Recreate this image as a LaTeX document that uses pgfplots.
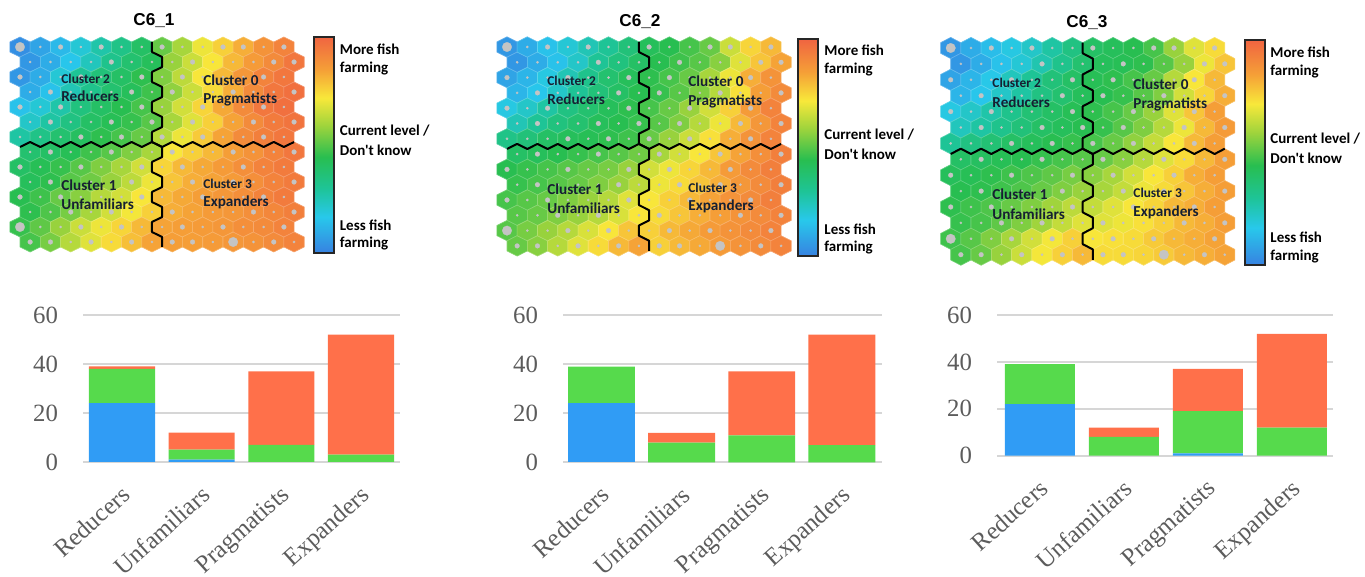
\documentclass[border=0pt]{standalone}
\usepackage{fontspec}
\setmainfont{Liberation Serif}
\newfontfamily\calfont{Carlito}
\newfontfamily\headfont{Liberation Sans}
\usepackage{pgfplots}
\usepackage{pgfplotstable}
\pgfplotsset{compat=1.18}

% colour scale of the component planes (less -> current -> more)
\definecolor{cb0}{RGB}{55,130,225}
\definecolor{cb1}{RGB}{40,200,235}
\definecolor{cb2}{RGB}{30,196,150}
\definecolor{cb3}{RGB}{40,190,80}
\definecolor{cb4}{RGB}{160,212,60}
\definecolor{cb5}{RGB}{248,232,58}
\definecolor{cb6}{RGB}{245,160,55}
\definecolor{cb7}{RGB}{240,100,65}
\definecolor{dotgray}{RGB}{196,196,196}
\definecolor{labeldark}{RGB}{22,32,50}
\definecolor{barblue}{RGB}{48,156,245}
\definecolor{bargreen}{RGB}{86,218,76}
\definecolor{barorange}{RGB}{255,112,74}
\definecolor{gridgray}{RGB}{214,214,214}
\definecolor{tickgray}{RGB}{92,92,92}

\pgfdeclareverticalshading{somscale}{100bp}{%
  color(0bp)=(cb0); color(25bp)=(cb0); color(33.25bp)=(cb1); color(40bp)=(cb2);
  color(47.15bp)=(cb3); color(54.5bp)=(cb4); color(60.8bp)=(cb5);
  color(67.3bp)=(cb6); color(75bp)=(cb7); color(100bp)=(cb7)}

% pointy-top hexagon cell: #2 half width, #3 half height, #4 quarter height
\newcommand\declarehex[4]{%
  \pgfdeclareplotmark{#1}{%
    \pgfpathmoveto{\pgfqpoint{0pt}{#3}}%
    \pgfpathlineto{\pgfqpoint{#2}{#4}}%
    \pgfpathlineto{\pgfqpoint{#2}{-#4}}%
    \pgfpathlineto{\pgfqpoint{0pt}{-#3}}%
    \pgfpathlineto{\pgfqpoint{-#2}{-#4}}%
    \pgfpathlineto{\pgfqpoint{-#2}{#4}}%
    \pgfpathclose\pgfusepathqfillstroke}}
\declarehex{hexA}{5.075pt}{5pt}{2.5pt}
\declarehex{hexB}{5.075pt}{5.1pt}{2.55pt}
\declarehex{hexC}{5.075pt}{5.3pt}{2.65pt}

% component plane values (0 = less fish farming, 100 = more), 14 x 14 SOM
\pgfplotstableread{
r c0 c1 c2 c3 c4 c5 c6 c7 c8 c9 c10 c11 c12 c13
0 3 8 13 20 27 33 40 52 60 70 76 82 88 92
1 5 10 16 24 32 38 42 58 65 72 80 86 90 95
2 5 10 20 30 36 40 45 55 63 72 80 87 92 95
3 10 15 25 32 38 42 47 57 65 74 82 90 95 97
4 15 20 27 35 40 44 48 58 66 75 83 90 95 97
5 22 28 34 40 43 46 50 60 68 76 84 90 94 96
6 28 33 38 41 45 48 52 62 70 77 84 90 93 95
7 38 40 43 47 50 55 60 72 76 80 85 88 92 95
8 40 43 46 50 55 60 66 75 80 83 86 89 92 94
9 42 45 50 53 58 63 70 78 82 84 86 89 92 94
10 44 47 52 56 62 66 72 80 83 85 87 89 92 94
11 45 49 54 60 66 71 76 82 84 86 87 89 91 93
12 46 51 58 65 70 75 80 84 85 86 87 89 90 92
13 48 54 62 68 74 79 84 85 85 86 87 88 90 92
}\planeA
\pgfplotstableread{
r c0 c1 c2 c3 c4 c5 c6 c7 c8 c9 c10 c11 c12 c13
0 5 10 15 20 25 30 36 42 44 48 52 65 75 80
1 5 10 15 22 30 35 40 44 47 50 56 68 78 84
2 8 12 18 25 32 38 42 45 48 52 60 70 82 88
3 12 16 22 30 36 40 44 46 50 55 62 73 85 90
4 18 22 28 34 38 42 45 48 52 58 66 76 86 92
5 25 30 35 38 42 44 46 50 55 62 70 80 87 92
6 33 36 40 42 43 45 47 52 58 65 73 82 88 92
7 40 42 44 46 48 50 53 60 66 72 78 84 89 93
8 44 46 48 50 52 54 58 66 70 75 80 86 90 93
9 46 48 50 52 55 58 63 70 74 78 82 87 90 93
10 48 50 52 55 58 62 68 72 76 80 84 88 90 93
11 50 52 55 58 62 67 72 74 78 82 85 88 90 92
12 50 54 58 62 67 72 78 76 80 83 86 88 90 92
13 52 56 62 68 74 80 84 76 80 83 86 88 90 92
}\planeB
\pgfplotstableread{
r c0 c1 c2 c3 c4 c5 c6 c7 c8 c9 c10 c11 c12 c13
0 5 10 14 18 22 28 34 40 42 44 48 58 68 74
1 5 10 15 20 26 32 38 42 43 45 50 58 70 78
2 8 12 17 24 30 36 40 43 45 48 52 62 72 80
3 12 16 22 28 34 38 42 44 46 50 55 66 75 82
4 18 22 27 32 37 40 43 45 48 52 58 68 78 85
5 24 28 32 36 40 42 44 46 50 55 62 70 80 86
6 30 34 37 40 42 44 46 48 52 57 64 72 80 85
7 40 41 43 44 46 48 50 52 56 62 68 74 80 85
8 42 43 45 47 49 51 54 56 60 66 72 76 82 85
9 44 45 47 49 52 55 58 60 64 70 74 78 82 85
10 45 47 49 52 55 59 63 64 68 72 75 80 82 85
11 46 48 51 55 59 64 68 68 70 73 76 80 82 85
12 47 50 55 60 66 71 76 72 73 74 77 80 82 84
13 48 52 58 65 71 76 80 74 74 75 77 80 82 84
}\planeC
% hits per cell (0 few, 1 some, 2 many), same map for all planes
\pgfplotstableread{
r d0 d1 d2 d3 d4 d5 d6 d7 d8 d9 d10 d11 d12 d13
0 2 0 1 0 1 0 0 1 0 0 1 1 0 1
1 0 0 0 0 1 0 0 0 1 0 0 0 1 1
2 1 0 0 1 0 0 1 0 1 0 0 0 1 0
3 0 1 0 0 0 1 0 1 0 0 1 0 0 1
4 1 0 1 0 0 0 1 0 0 1 0 0 1 0
5 0 1 0 0 1 0 1 0 1 0 0 1 0 1
6 0 0 0 1 0 1 0 1 0 1 0 0 1 0
7 0 1 0 0 1 0 0 1 0 0 1 0 0 1
8 1 0 0 1 0 0 1 0 1 0 0 1 0 0
9 0 1 0 0 0 1 0 0 1 0 1 0 0 1
10 1 0 1 0 0 0 1 0 0 1 0 0 1 0
11 0 0 1 0 1 0 0 1 0 0 0 1 0 1
12 2 0 0 1 0 1 0 0 1 0 1 0 0 1
13 1 1 0 1 0 1 0 1 1 0 2 0 1 0
}\hitdots
% cluster borders along cell edges (u in half cell widths, v in quarter cell heights)
\pgfplotstableread{
u v
13 -1
13 1
14 2
14 4
13 5
13 7
14 8
14 10
13 11
13 13
14 14
14 16
13 17
13 19
14 20
14 22
13 23
13 25
14 26
14 28
13 29
13 31
14 32
14 34
13 35
13 37
14 38
14 40
}\vdiv
\pgfplotstableread{
u v
0 20
1 19
2 20
3 19
4 20
5 19
6 20
7 19
8 20
9 19
10 20
11 19
12 20
13 19
14 20
15 19
16 20
17 19
18 20
19 19
20 20
21 19
22 20
23 19
24 20
25 19
26 20
27 19
}\hdiv

% #1 table, #2 x of first cell, #3 y of first cell, #4 row step, #5 mark
\newcommand\hexplane[5]{%
  \pgfplotsinvokeforeach{0,...,13}{%
    \addplot[scatter, only marks, mark=#5, scatter src=explicit,
      scatter/use mapped color={draw=mapped color!75!white, fill=mapped color},
      mark options={line width=0.3pt}]
      table[x expr={#2+(##1+0.5*mod(\thisrow{r},2))*20.3},
            y expr={#3+\thisrow{r}*#4}, meta=c##1] {#1};
  }%
}
% hit markers: #1 x of first cell, #2 y of first cell, #3 row step
\newcommand\hexhits[3]{%
  \pgfplotsinvokeforeach{0,...,13}{%
    \addplot[scatter, only marks, mark=*, point meta=\thisrow{d##1},
      scatter/use mapped color={draw=dotgray, fill=dotgray},
      mark options={line width=0.1pt},
      visualization depends on={0.6+0.6*\thisrow{d##1}+0.3*\thisrow{d##1}*(\thisrow{d##1}-1) \as \dsz},
      scatter/@pre marker code/.append style={/tikz/mark size=\dsz}]
      table[x expr={#1+(##1+0.5*mod(\thisrow{r},2))*20.3},
            y expr={#2+\thisrow{r}*#3}] {\hitdots};
  }%
}
% cluster borders: #1 x of first cell, #2 y of first cell, #3 row step
\newcommand\hexborders[3]{%
  \addplot[black, line width=1pt, line join=round]
    table[x expr={#1+\thisrow{u}*10.15}, y expr={#2+\thisrow{v}*#3/3}] {\vdiv};
  \addplot[black, line width=1pt, line join=round]
    table[x expr={#1+\thisrow{u}*10.15}, y expr={#2+\thisrow{v}*#3/3}] {\hdiv};
}

% #1 left x, #2 top y, #3 bottom y
\newcommand\scalebar[3]{%
  \addplot[draw=black!85, line width=1pt, line cap=rect, shading=somscale]
    coordinates {(#1,#2) (#1+20,#2) (#1+20,#3) (#1,#3) (#1,#2)};
}

\tikzset{
  maplabel/.style={anchor=west, inner sep=0pt, text=labeldark,
    font=\calfont\bfseries\fontsize{7.6}{9}\selectfont},
  mapsmall/.style={maplabel, font=\calfont\bfseries\fontsize{6.7}{8}\selectfont},
  scalelabel/.style={anchor=west, inner sep=0pt, text=black,
    font=\calfont\bfseries\fontsize{7.5}{9}\selectfont},
  planetitle/.style={inner sep=0pt, font=\headfont\bfseries\fontsize{8.6}{10}\selectfont}
}

\pgfplotsset{
  planeframe/.style={at={(0pt,0pt)}, anchor=south west, scale only axis,
    width=682.5pt, height=288.5pt,
    xmin=0, xmax=1365, ymin=0, ymax=577, y dir=reverse,
    hide axis, clip=false,
    colormap={som}{rgb255(0pt)=(55,130,225) rgb255(16.5pt)=(40,200,235)
      rgb255(30pt)=(30,196,150) rgb255(44.3pt)=(40,190,80)
      rgb255(59pt)=(160,212,60) rgb255(71.6pt)=(248,232,58)
      rgb255(84.6pt)=(245,160,55) rgb255(100pt)=(240,100,65)},
    point meta min=0, point meta max=100},
  clusterbars/.style={
    scale only axis, anchor=south west, ybar stacked,
    ymin=0, ymax=60, ytick={0,20,40,60},
    xtick={0,1,2,3},
    xticklabels={Reducers,Unfamiliars,Pragmatists,Expanders},
    axis line style={draw=none}, major tick length=0pt,
    ymajorgrids, major grid style={draw=gridgray, line width=1pt},
    tick label style={font=\fontsize{12.4}{14}\selectfont, text=tickgray},
    /pgf/number format/assume math mode=true,
    yticklabel style={xshift=-9pt},
    xticklabel style={rotate=42, anchor=north east, inner sep=0pt,
      xshift=-8pt, yshift=-7.5pt},
  },
}

\begin{document}
\begin{tikzpicture}
\path[use as bounding box] (0pt,0pt) rectangle (682.5pt,288.5pt);

% component planes
\begin{axis}[planeframe]
\hexplane{\planeA}{20}{47}{15}{hexA}
\hexplane{\planeB}{507}{47}{15.3}{hexB}
\hexplane{\planeC}{950.7}{48}{15.9}{hexC}
\end{axis}

% hits, cluster borders, colour scales and labels on top of the planes
\begin{axis}[planeframe]
\hexhits{20}{47}{15}
\hexhits{507}{47}{15.3}
\hexhits{950.7}{48}{15.9}
\end{axis}

\begin{axis}[planeframe]
\hexborders{20}{47}{15}
\hexborders{507}{47}{15.3}
\hexborders{950.7}{48}{15.9}

\scalebar{314}{36.7}{252.7}
\scalebar{798.3}{39}{256}
\scalebar{1245}{40}{265}

\node[planetitle] at (axis cs:154,21) {C6\_1};
\node[planetitle] at (axis cs:640,22) {C6\_2};
\node[planetitle] at (axis cs:1087,23) {C6\_3};

% C6_1
\node[mapsmall] at (axis cs:61,78.5) {Cluster 2};
\node[maplabel] at (axis cs:61,96.5) {Reducers};
\node[maplabel] at (axis cs:203,80) {Cluster 0};
\node[maplabel] at (axis cs:203,99) {Pragmatists};
\node[maplabel] at (axis cs:61,185) {Cluster 1};
\node[maplabel] at (axis cs:61,204) {Unfamiliars};
\node[mapsmall] at (axis cs:203,184) {Cluster 3};
\node[maplabel] at (axis cs:203,202.5) {Expanders};
\node[scalelabel] at (axis cs:339.5,49.5) {More fish};
\node[scalelabel] at (axis cs:339.5,69) {farming};
\node[scalelabel] at (axis cs:339.5,131) {Current level /};
\node[scalelabel] at (axis cs:339.5,150.5) {Don't know};
\node[scalelabel] at (axis cs:339.5,225.5) {Less fish};
\node[scalelabel] at (axis cs:339.5,244) {farming};

% C6_2
\node[mapsmall] at (axis cs:547,81) {Cluster 2};
\node[maplabel] at (axis cs:547,99) {Reducers};
\node[maplabel] at (axis cs:688,81) {Cluster 0};
\node[maplabel] at (axis cs:688,101) {Pragmatists};
\node[maplabel] at (axis cs:547,189) {Cluster 1};
\node[maplabel] at (axis cs:547,208) {Unfamiliars};
\node[mapsmall] at (axis cs:688,188) {Cluster 3};
\node[maplabel] at (axis cs:688,206) {Expanders};
\node[scalelabel] at (axis cs:824,50.5) {More fish};
\node[scalelabel] at (axis cs:824,70) {farming};
\node[scalelabel] at (axis cs:824,135) {Current level /};
\node[scalelabel] at (axis cs:824,154) {Don't know};
\node[scalelabel] at (axis cs:824,229) {Less fish};
\node[scalelabel] at (axis cs:824,248) {farming};

% C6_3
\node[mapsmall] at (axis cs:992,83) {Cluster 2};
\node[maplabel] at (axis cs:992,102) {Reducers};
\node[maplabel] at (axis cs:1133,84) {Cluster 0};
\node[maplabel] at (axis cs:1133,104) {Pragmatists};
\node[maplabel] at (axis cs:992,194) {Cluster 1};
\node[maplabel] at (axis cs:992,214) {Unfamiliars};
\node[mapsmall] at (axis cs:1133,193) {Cluster 3};
\node[maplabel] at (axis cs:1133,212) {Expanders};
\node[scalelabel] at (axis cs:1270,52) {More fish};
\node[scalelabel] at (axis cs:1270,71.5) {farming};
\node[scalelabel] at (axis cs:1270,139) {Current level /};
\node[scalelabel] at (axis cs:1270,158) {Don't know};
\node[scalelabel] at (axis cs:1270,237) {Less fish};
\node[scalelabel] at (axis cs:1270,256.5) {farming};
\end{axis}

% respondents per cluster and answer: less (blue), current (green), more (orange)
\begin{axis}[clusterbars, at={(41.5pt,57.5pt)}, width=158.5pt, height=73.5pt,
  xmin=-0.49, xmax=3.49, bar width=0.83]
\addplot[fill=barblue, draw=none] coordinates {(0,24) (1,1) (2,0) (3,0)};
\addplot[fill=bargreen, draw=none] coordinates {(0,14) (1,4) (2,7) (3,3)};
\addplot[fill=barorange, draw=none] coordinates {(0,1) (1,7) (2,30) (3,49)};
\end{axis}

\begin{axis}[clusterbars, at={(281.5pt,57.35pt)}, width=159.5pt, height=73.65pt,
  xmin=-0.48, xmax=3.5, bar width=0.835]
\addplot[fill=barblue, draw=none] coordinates {(0,24) (1,0) (2,0) (3,0)};
\addplot[fill=bargreen, draw=none] coordinates {(0,15) (1,8) (2,11) (3,7)};
\addplot[fill=barorange, draw=none] coordinates {(0,0) (1,4) (2,26) (3,45)};
\end{axis}

\begin{axis}[clusterbars, at={(498.5pt,60.65pt)}, width=168pt, height=70.35pt,
  xmin=-0.51, xmax=3.49, bar width=0.833]
\addplot[fill=barblue, draw=none] coordinates {(0,22) (1,0) (2,1) (3,0)};
\addplot[fill=bargreen, draw=none] coordinates {(0,17) (1,8) (2,18) (3,12)};
\addplot[fill=barorange, draw=none] coordinates {(0,0) (1,4) (2,18) (3,40)};
\end{axis}
\end{tikzpicture}
\end{document}
